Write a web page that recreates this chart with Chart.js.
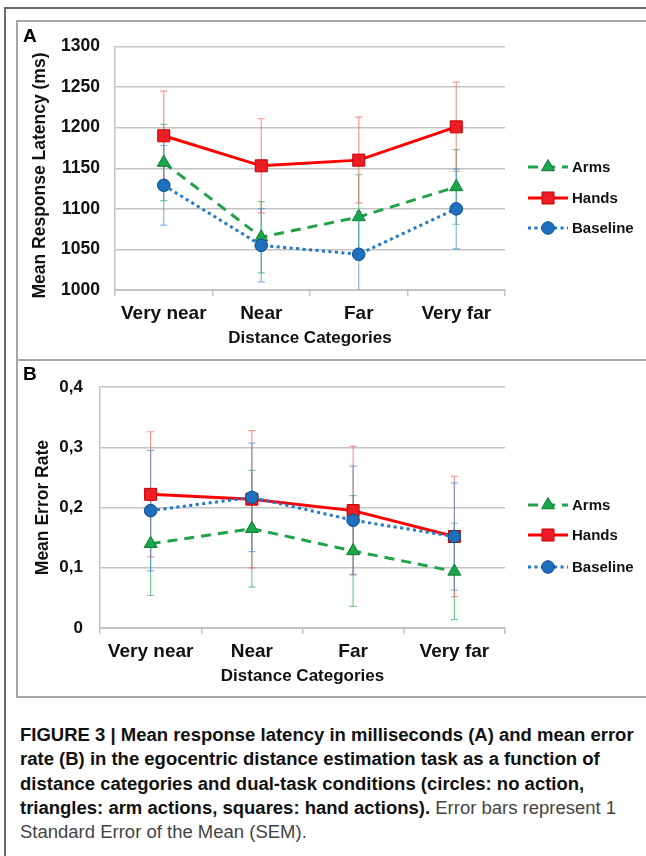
<!DOCTYPE html>
<html>
<head>
<meta charset="utf-8">
<script src="https://cdn.jsdelivr.net/npm/chart.js@4.4.1/dist/chart.umd.min.js"></script>
<style>
  html, body { margin:0; padding:0; background:#fff; }
  body { width:646px; height:856px; position:relative; overflow:hidden; font-family:"Liberation Sans", Arial, sans-serif; }
  #outer { position:absolute; left:4px; top:7px; width:700px; height:900px; border-left:2px solid #6a6a6a; border-top:2px solid #6a6a6a; box-sizing:border-box; }
  .box { position:absolute; left:16px; width:700px; border:2px solid #a6a6a6; box-sizing:border-box; }
  #boxA { top:20px; height:341px; }
  #boxB { top:359px; height:339px; }
  canvas { position:absolute; left:16px; }
  #cA { top:21px; }
  #cB { top:360px; }
  .plabel { position:absolute; left:23px; font-weight:bold; font-size:19px; color:#000; }
  #caption { position:absolute; left:20px; top:723px; font-size:17.5px; line-height:24.3px; color:#1a1a1a; font-family:"Liberation Sans Narrow", "Liberation Sans", Arial, sans-serif; }
  #caption .ln { white-space:nowrap; transform-origin:0 0; }
  #caption b { font-weight:bold; color:#111; }
  #caption span.reg { color:#444; }
</style>
</head>
<body>
<div id="outer"></div>
<div class="box" id="boxA"></div>
<div class="box" id="boxB"></div>
<canvas id="cA" width="630" height="339"></canvas>
<canvas id="cB" width="630" height="336"></canvas>
<div class="plabel" style="top:25px;">A</div>
<div class="plabel" style="top:363px;">B</div>
<div id="caption">
  <div class="ln"><b>FIGURE 3 | Mean response latency in milliseconds (A) and mean error</b></div>
  <div class="ln"><b>rate (B) in the egocentric distance estimation task as a function of</b></div>
  <div class="ln"><b>distance categories and dual-task conditions (circles: no action,</b></div>
  <div class="ln"><b>triangles: arm actions, squares: hand actions).</b> <span class="reg">Error bars represent 1</span></div>
  <div class="ln"><span class="reg">Standard Error of the Mean (SEM).</span></div>
</div>
<script>
// ---------- data ----------
const categories = ['Very near', 'Near', 'Far', 'Very far'];
const seriesNames = ['Arms', 'Hands', 'Baseline'];

// Panel A: mean response latency (ms)
const latencyArms      = [1157, 1065, 1090, 1127];
const latencyArmsSem   = [47, 44, 52, 46];
const latencyHands     = [1190, 1153, 1160, 1201];
const latencyHandsSem  = [55, 58, 53, 55];
const latencyBase      = [1129, 1055, 1044, 1100];
const latencyBaseSem   = [49, 45, 53, 49];
const latencyTicks     = [1000, 1050, 1100, 1150, 1200, 1250, 1300];

// Panel B: mean error rate
const errorArms        = [0.140, 0.165, 0.128, 0.094];
const errorArmsSem     = [0.086, 0.097, 0.092, 0.080];
const errorHands       = [0.222, 0.214, 0.195, 0.152];
const errorHandsSem    = [0.104, 0.114, 0.107, 0.100];
const errorBase        = [0.195, 0.217, 0.179, 0.152];
const errorBaseSem     = [0.100, 0.090, 0.090, 0.089];
const errorTicks       = [0, 0.1, 0.2, 0.3, 0.4];
const errorTickLabels  = ['0', '0,1', '0,2', '0,3', '0,4'];

// ---------- styles ----------
const FONT = '"Liberation Sans", Arial, sans-serif';
const GRID = '#c3c3c3';
const styles = {
  Arms:     { line:'#1fa24a', dash:[10,7], fill:'#1aa64b', border:'#0f7d35', point:'triangle', radius:7.5, err:'rgba(60,180,100,0.7)', order:3 },
  Hands:    { line:'#ff0000', dash:[],     fill:'#ee1c24', border:'#c00000', point:'rect',     radius:8.5, err:'rgba(255,90,90,0.65)',   order:2 },
  Baseline: { line:'#1f78c8', dash:[3,3.5], fill:'#1e6fbd', border:'#0d4f8f', point:'circle',  radius:6.3, err:'rgba(70,140,210,0.65)',  order:1 }
};

function makeDataset(name, values, sem) {
  const s = styles[name];
  return {
    label: name, data: values, errors: sem, errorColor: s.err,
    borderColor: s.line, borderWidth: 3, borderDash: s.dash, tension: 0,
    pointStyle: s.point, pointRadius: s.radius, pointBackgroundColor: s.fill,
    pointBorderColor: s.border, pointBorderWidth: 1, order: s.order
  };
}

const errorBarPlugin = {
  id: 'errorBars',
  beforeDatasetsDraw(chart) {
    const ctx = chart.ctx, ys = chart.scales.y, a = chart.chartArea;
    ctx.save();
    ctx.beginPath(); ctx.rect(a.left, a.top - 2, a.right - a.left, a.bottom - a.top + 2); ctx.clip();
    chart.data.datasets.forEach((ds, di) => {
      if (!ds.errors) return;
      const meta = chart.getDatasetMeta(di);
      ctx.strokeStyle = ds.errorColor; ctx.lineWidth = 1.2;
      ds.data.forEach((v, i) => {
        const px = meta.data[i].x;
        const t = ys.getPixelForValue(v + ds.errors[i]);
        const b = ys.getPixelForValue(v - ds.errors[i]);
        ctx.beginPath();
        ctx.moveTo(px, t); ctx.lineTo(px, b);
        ctx.moveTo(px - 3.5, t); ctx.lineTo(px + 3.5, t);
        ctx.moveTo(px - 3.5, b); ctx.lineTo(px + 3.5, b);
        ctx.stroke();
      });
    });
    ctx.restore();
  }
};

const legendPlugin = {
  id: 'sideLegend',
  afterDraw(chart, args, opts) {
    const ctx = chart.ctx;
    opts.items.forEach((name, k) => {
      const ds = chart.data.datasets.find(d => d.label === name);
      const y = opts.ys[k];
      ctx.save();
      ctx.strokeStyle = ds.borderColor; ctx.lineWidth = 3; ctx.setLineDash(ds.borderDash);
      ctx.beginPath(); ctx.moveTo(opts.x1, y); ctx.lineTo(opts.x2, y); ctx.stroke();
      ctx.setLineDash([]);
      ctx.fillStyle = ds.pointBackgroundColor; ctx.strokeStyle = ds.pointBorderColor; ctx.lineWidth = 1;
      Chart.helpers.drawPoint(ctx, { pointStyle: ds.pointStyle, radius: ds.pointRadius, borderWidth: 1, rotation: 0 }, (opts.x1 + opts.x2) / 2, y);
      ctx.fillStyle = '#111'; ctx.font = 'bold 15px ' + FONT; ctx.textBaseline = 'middle'; ctx.textAlign = 'left';
      ctx.fillText(name, opts.tx, y + 1);
      ctx.restore();
    });
  }
};

function buildChart(id, datasets, yOpts, layout) {
  return new Chart(document.getElementById(id), {
    type: 'line',
    data: { labels: categories, datasets },
    plugins: [errorBarPlugin, legendPlugin],
    options: {
      responsive: false, animation: false, devicePixelRatio: 1,
      layout: { padding: { left: 0, top: layout.top, right: 141, bottom: 0 } },
      plugins: {
        legend: { display: false }, tooltip: { enabled: false },
        sideLegend: { items: seriesNames, x1: 512, x2: 552, tx: 556, ys: layout.legendY }
      },
      scales: {
        x: {
          type: 'category', offset: true,
          grid: { offset: true, drawOnChartArea: false, drawTicks: true, tickLength: 6, color: GRID, lineWidth: 1.5 },
          border: { display: true, color: GRID, width: 2 },
          ticks: { color: '#111', font: { family: FONT, size: 19, weight: 'bold' }, padding: layout.xPad, maxRotation: 0, autoSkip: false },
          title: { display: true, text: 'Distance Categories', color: '#111', font: { family: FONT, size: 17, weight: 'bold' }, padding: { top: 0, bottom: layout.xTitlePad } },
          afterFit: s => { s.height = layout.xHeight; }
        },
        y: Object.assign({
          grid: { drawTicks: false, color: GRID, lineWidth: 1.5 },
          border: { display: true, color: GRID, width: 1.5 },
          afterFit: s => { s.width = layout.yWidth; }
        }, yOpts)
      }
    }
  });
}

buildChart('cA', [
  makeDataset('Arms', latencyArms, latencyArmsSem),
  makeDataset('Hands', latencyHands, latencyHandsSem),
  makeDataset('Baseline', latencyBase, latencyBaseSem)
], {
  min: latencyTicks[0], max: latencyTicks[latencyTicks.length - 1],
  afterBuildTicks: s => { s.ticks = latencyTicks.map(v => ({ value: v })); },
  ticks: { color: '#111', padding: 15, font: { family: FONT, size: 17.5, weight: 'bold' }, callback: v => String(v) },
  title: { display: true, text: 'Mean Response Latency (ms)\u00a0\u00a0\u00a0', color: '#111', font: { family: FONT, size: 17.5, weight: 'bold' }, padding: { top: 14, bottom: 0 } }
}, { top: 25, yWidth: 99, xHeight: 70, xPad: 6.5, xTitlePad: 11, legendY: [146, 177, 207] });

buildChart('cB', [
  makeDataset('Arms', errorArms, errorArmsSem),
  makeDataset('Hands', errorHands, errorHandsSem),
  makeDataset('Baseline', errorBase, errorBaseSem)
], {
  min: errorTicks[0], max: errorTicks[errorTicks.length - 1],
  afterBuildTicks: s => { s.ticks = errorTicks.map(v => ({ value: v })); },
  ticks: { color: '#111', padding: 17, font: { family: FONT, size: 17, weight: 'bold' }, callback: (v, i) => errorTickLabels[i] },
  title: { display: true, text: 'Mean Error Rate', color: '#111', font: { family: FONT, size: 17.5, weight: 'bold' }, padding: { top: 17, bottom: 0 } }
}, { top: 24, yWidth: 84, xHeight: 68, xPad: 6.8, xTitlePad: 9.3, legendY: [145, 175, 207] });

// caption line fitting
(function () {
  const lines = document.querySelectorAll('#caption .ln');
  const w = lines[0].scrollWidth;
  const k = 614 / w;
  lines.forEach(l => { l.style.transform = 'scaleX(' + k + ')'; });
})();
</script>
</body>
</html>
